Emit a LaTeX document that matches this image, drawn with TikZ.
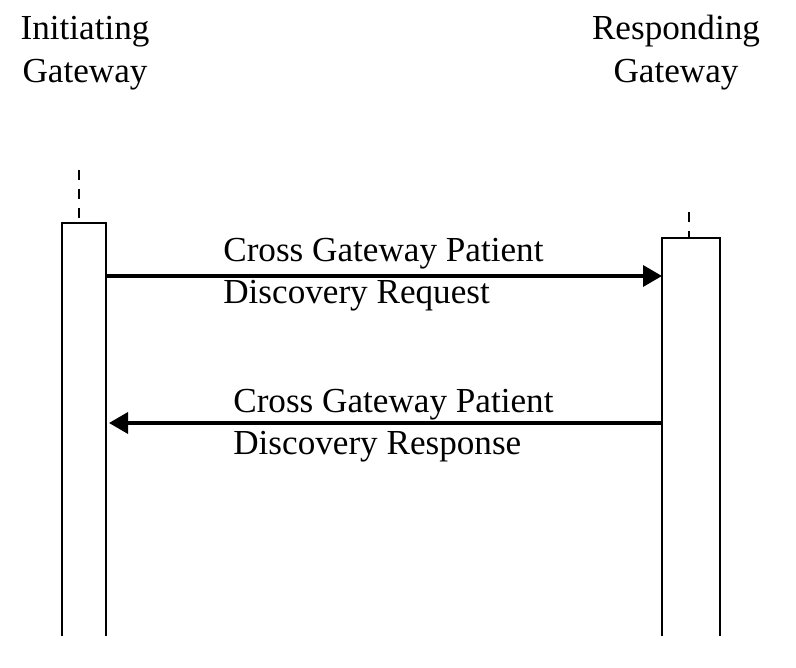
\documentclass[tikz,border=0pt]{standalone}
\usepackage{fontspec}
\setmainfont{Liberation Serif}
\usetikzlibrary{arrows.meta}

\begin{document}
\begin{tikzpicture}
    \useasboundingbox (0,0) rectangle (15.92,13.36);
    \tikzset{
        msgtext/.style={font=\fontsize{20}{24}\selectfont, align=left, inner sep=0pt},
        headtext/.style={font=\fontsize{20}{25}\selectfont, align=center, inner sep=0pt},
        msg/.style={line width=2pt, -{Triangle[length=0.38cm, width=0.42cm]}},
        life/.style={line width=1.3pt},
        stem/.style={line width=1.3pt, dash pattern=on 0.2cm off 0.18cm}
    }

    % Headers
    \node[headtext, anchor=base] (init) at (1.70,11.70) {Initiating\\Gateway};
    \node[headtext, anchor=base] (resp) at (13.52,11.70) {Responding\\Gateway};

    % Initiating gateway lifeline
    \draw[stem] (1.58,9.96) -- (1.58,8.90);
    \draw[life] (1.24,0.64) -- (1.24,8.90) -- (2.12,8.90) -- (2.12,0.64);

    % Responding gateway lifeline
    \draw[stem] (13.78,9.12) -- (13.78,8.60);
    \draw[life] (13.24,0.64) -- (13.24,8.60) -- (14.40,8.60) -- (14.40,0.64);

    % Messages
    \coordinate (req start) at (2.12,7.84);
    \coordinate (req end) at (13.24,7.84);
    \coordinate (resp start) at (13.24,4.90);
    \coordinate (resp end) at (2.18,4.90);
    \draw[msg] (req start) -- (req end);
    \draw[msg] (resp start) -- (resp end);

    % Labels
    \node[msgtext, anchor=base west] (reqtext) at (4.46,7.28) {Cross Gateway Patient\\Discovery Request};
    \node[msgtext, anchor=base west] (resptext) at (4.66,4.26) {Cross Gateway Patient\\Discovery Response};
\end{tikzpicture}
\end{document}
